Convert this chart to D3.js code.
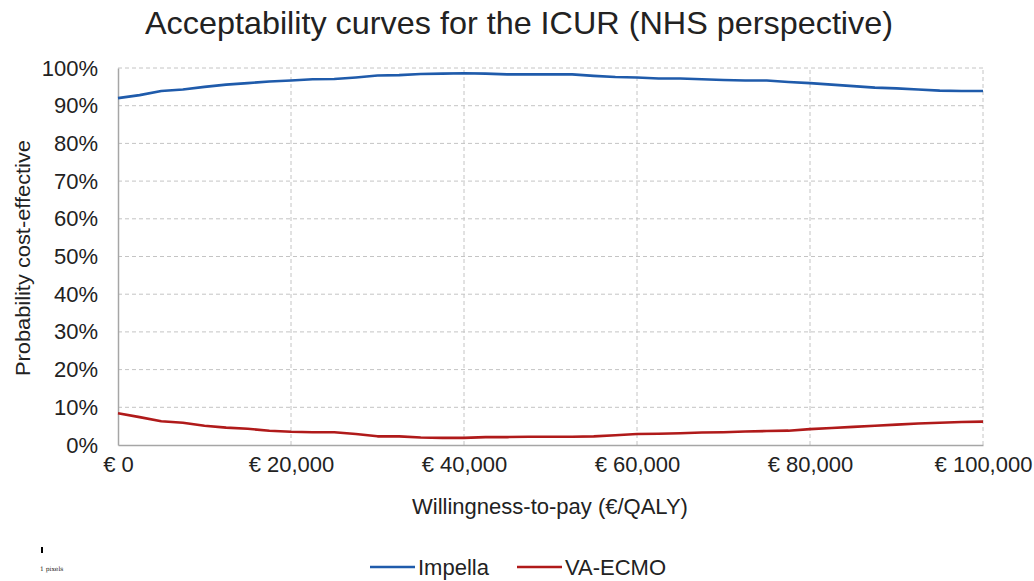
<!DOCTYPE html>
<html>
<head>
<meta charset="utf-8">
<script src="https://cdn.jsdelivr.net/npm/d3@7"></script>
<style>
  body { margin: 0; background: #fff; }
  svg text { font-family: "Liberation Sans", Arial, sans-serif; fill: #222; }
</style>
</head>
<body>
<script>
// willingness-to-pay steps (EUR/QALY)
var wtp = d3.range(0, 100001, 2500);

// probability cost-effective (%)
var impella = [92.0, 92.8, 93.9, 94.3, 95.0, 95.6, 96.0, 96.4, 96.7, 97.0,
               97.1, 97.5, 98.0, 98.1, 98.4, 98.5, 98.6, 98.5, 98.3, 98.3,
               98.3, 98.3, 97.9, 97.6, 97.5, 97.2, 97.2, 97.0, 96.8, 96.7,
               96.7, 96.3, 96.0, 95.6, 95.2, 94.8, 94.6, 94.3, 94.0, 93.9, 93.9];
var vaEcmo = [8.4, 7.4, 6.3, 5.9, 5.1, 4.6, 4.3, 3.8, 3.5, 3.4,
              3.4, 2.9, 2.3, 2.3, 2.0, 1.9, 1.9, 2.1, 2.1, 2.2,
              2.2, 2.2, 2.3, 2.6, 2.9, 3.0, 3.1, 3.3, 3.4, 3.6,
              3.7, 3.8, 4.2, 4.5, 4.8, 5.1, 5.4, 5.7, 5.9, 6.1, 6.2];

var xTicks = [0, 20000, 40000, 60000, 80000, 100000];
var yTicks = d3.range(0, 101, 10);

var seriesNames = ["Impella", "VA-ECMO"];
var seriesColors = ["#1f5bab", "#b01a1a"];

var width = 1034, height = 581;
var svg = d3.select("body").append("svg")
    .attr("width", width)
    .attr("height", height);

var x = d3.scaleLinear().domain([0, 100000]).range([118, 983]);
var y = d3.scaleLinear().domain([0, 100]).range([445, 68]);

// title
svg.append("text")
    .attr("x", 519)
    .attr("y", 34)
    .attr("text-anchor", "middle")
    .style("font-size", "32px")
    .attr("textLength", 748)
    .attr("lengthAdjust", "spacingAndGlyphs")
    .text("Acceptability curves for the ICUR (NHS perspective)");

// gridlines
var grid = svg.append("g");
grid.selectAll(".hgrid")
    .data(yTicks.filter(function (d) { return d > 0; }))
    .enter().append("line")
    .attr("x1", x(0)).attr("x2", x(100000))
    .attr("y1", function (d) { return y(d); })
    .attr("y2", function (d) { return y(d); })
    .attr("stroke", "#c4c4c4")
    .attr("stroke-dasharray", "4,3");
grid.selectAll(".vgrid")
    .data(xTicks.filter(function (d) { return d > 0; }))
    .enter().append("line")
    .attr("y1", y(0)).attr("y2", y(100))
    .attr("x1", function (d) { return x(d); })
    .attr("x2", function (d) { return x(d); })
    .attr("stroke", "#c4c4c4")
    .attr("stroke-dasharray", "4,3");

// axes
var yAxis = svg.append("g")
    .attr("transform", "translate(" + x(0) + ",0)")
    .call(d3.axisLeft(y).tickValues(yTicks).tickSize(0).tickPadding(20)
        .tickFormat(function (d) { return d + "%"; }));
var xAxis = svg.append("g")
    .attr("transform", "translate(0," + y(0) + ")")
    .call(d3.axisBottom(x).tickValues(xTicks).tickSize(0).tickPadding(11)
        .tickFormat(function (d) { return "\u20ac " + d3.format(",")(d); }));

[yAxis, xAxis].forEach(function (a) {
    a.select(".domain").attr("stroke", "#a6a6a6").attr("stroke-width", 1.5);
    a.selectAll("text").style("font-size", "22px").attr("fill", "#222");
});

// axis titles
svg.append("text")
    .attr("transform", "translate(30,258) rotate(-90)")
    .attr("text-anchor", "middle")
    .style("font-size", "21px")
    .attr("textLength", 236)
    .attr("lengthAdjust", "spacingAndGlyphs")
    .text("Probability  cost-effective");
svg.append("text")
    .attr("x", 550)
    .attr("y", 514)
    .attr("text-anchor", "middle")
    .style("font-size", "22px")
    .text("Willingness-to-pay (\u20ac/QALY)");

// curves
var line = d3.line()
    .x(function (d) { return x(d[0]); })
    .y(function (d) { return y(d[1]); });

[impella, vaEcmo].forEach(function (vals, i) {
    svg.append("path")
        .datum(wtp.map(function (w, j) { return [w, vals[j]]; }))
        .attr("fill", "none")
        .attr("stroke", seriesColors[i])
        .attr("stroke-width", 2.6)
        .attr("stroke-linejoin", "round")
        .attr("d", line);
});

// legend
var legend = svg.append("g").attr("transform", "translate(370,567)");
var legendX = [0, 147];
seriesNames.forEach(function (name, i) {
    var item = legend.append("g").attr("transform", "translate(" + legendX[i] + ",0)");
    item.append("line")
        .attr("x1", 0).attr("x2", 45)
        .attr("stroke", seriesColors[i])
        .attr("stroke-width", 2.6);
    item.append("text")
        .attr("x", 48)
        .attr("dy", "0.35em")
        .style("font-size", "22px")
        .text(name);
});

// scale marker at bottom left
svg.append("rect")
    .attr("x", 41).attr("y", 547)
    .attr("width", 2).attr("height", 6)
    .attr("fill", "#000");
svg.append("text")
    .attr("x", 40).attr("y", 571)
    .style("font-size", "6px")
    .style("font-family", "DejaVu Serif, serif")
    .text("1 pixels");
</script>
</body>
</html>
